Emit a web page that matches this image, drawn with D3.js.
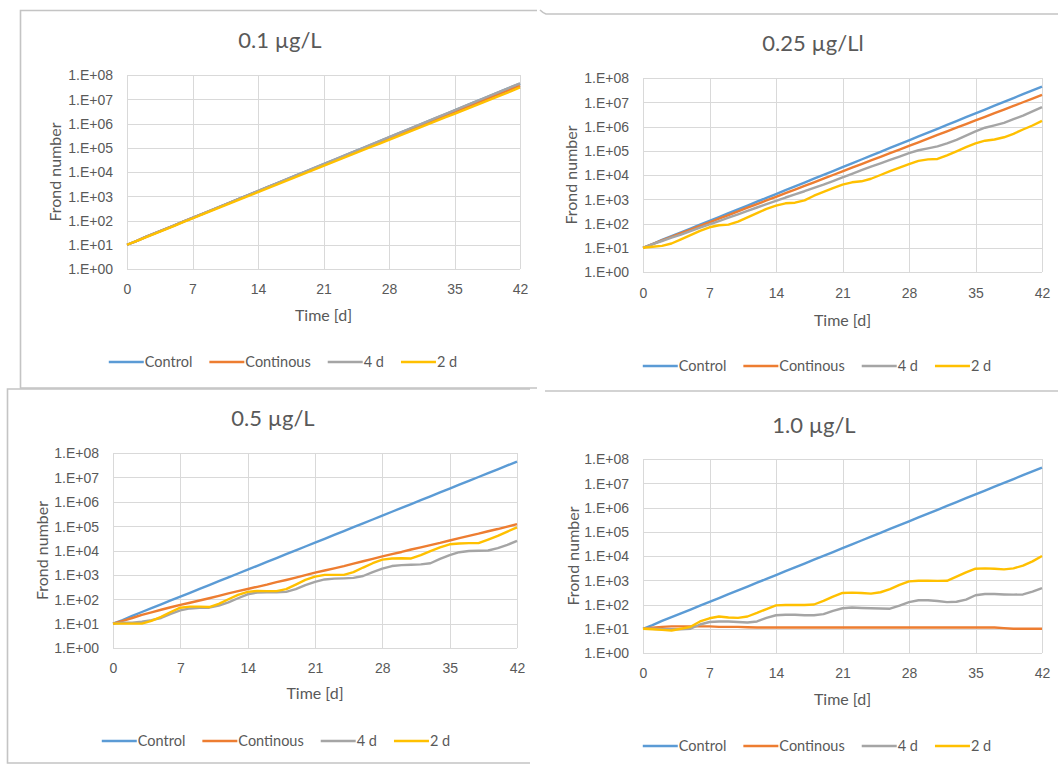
<!DOCTYPE html>
<html>
<head>
<meta charset="utf-8">
<title>Frond number over time</title>
<script src="https://d3js.org/d3.v7.min.js"></script>
<style>
  body { margin: 0; background: #fff; }
  svg { display: block; font-family: Lato, "Open Sans", sans-serif; }
  .ticks text { fill: #595959; }
  .grid line { stroke: #d9d9d9; stroke-width: 1; shape-rendering: crispEdges; }
  .frame { stroke: #c4c4c4; stroke-width: 1.6; fill: none; }
</style>
</head>
<body>
<svg id="chart" width="1058" height="765"></svg>
<script>
// ---- data ----
var days = [0, 1, 2, 3, 4, 5, 6, 7, 8, 9, 10, 11, 12, 13, 14, 15, 16, 17, 18, 19, 20,
            21, 22, 23, 24, 25, 26, 27, 28, 29, 30, 31, 32, 33, 34, 35, 36, 37, 38, 39, 40, 41, 42];
var xTicks = [0, 7, 14, 21, 28, 35, 42];
var yTicks = [1, 10, 100, 1e3, 1e4, 1e5, 1e6, 1e7, 1e8];
var yTickLabels = ["1.E+00", "1.E+01", "1.E+02", "1.E+03", "1.E+04", "1.E+05", "1.E+06", "1.E+07", "1.E+08"];
var seriesNames = ["Control", "Continous", "4 d", "2 d"];
var panelTitles = ["0.1 \u00b5g/L", "0.25 \u00b5g/Ll", "0.5 \u00b5g/L", "1.0 \u00b5g/L"];

// control is the same in every panel
var control = [10, 14, 21, 30, 43, 62, 89,
  128, 184, 265, 382, 550, 790, 1140,
  1640, 2360, 3400, 4900, 7050, 10150, 14600,
  21000, 30300, 43600, 62800, 90400, 130000, 187000,
  270000, 389000, 560000, 806000, 1.16e6, 1.67e6, 2.41e6,
  3.47e6, 4.99e6, 7.19e6, 1.035e7, 1.49e7, 2.15e7, 3.09e7,
  4.45e7];

// 0.1 ug/L
var p01Cont = [10, 14, 21, 30, 43, 62, 89,
  127, 182, 262, 378, 543, 778, 1120,
  1600, 2300, 3300, 4740, 6800, 9760, 13900,
  19900, 28600, 40900, 58700, 84000, 120000, 172000,
  246000, 352000, 500000, 715000, 1.02e6, 1.46e6, 2.09e6,
  2.99e6, 4.27e6, 6.1e6, 8.7e6, 1.24e7, 1.78e7, 2.54e7,
  3.6e7];
var p01Four = [10, 14, 21, 30, 43, 62, 89,
  128, 184, 266, 383, 552, 793, 1150,
  1650, 2380, 3420, 4930, 7100, 10200, 14700,
  21100, 30400, 43800, 63100, 90900, 131000, 189000,
  272000, 392000, 565000, 813000, 1.17e6, 1.69e6, 2.43e6,
  3.5e6, 5.04e6, 7.26e6, 1.05e7, 1.51e7, 2.17e7, 3.13e7,
  4.55e7];
var p01Two = [10, 14, 20, 29, 41, 59, 85,
  121, 173, 247, 354, 506, 722, 1030,
  1480, 2110, 3020, 4320, 6170, 8820, 12600,
  17900, 25500, 36300, 51700, 73600, 105000, 149000,
  212000, 302000, 430000, 612000, 870000, 1.24e6, 1.77e6,
  2.52e6, 3.58e6, 5.1e6, 7.25e6, 1.03e7, 1.47e7, 2.1e7,
  3.1e7];

// 0.25 ug/L
var p025Cont = [10, 14, 20, 28, 40, 56, 79,
  112, 158, 224, 316, 447, 631, 891,
  1260, 1780, 2510, 3550, 5010, 7080, 10000,
  14100, 20000, 28200, 39800, 56200, 79400, 112000,
  158000, 224000, 316000, 447000, 631000, 891000, 1.26e6,
  1.78e6, 2.51e6, 3.55e6, 5.01e6, 7.08e6, 1.0e7, 1.41e7,
  2.0e7];
var p025Four = [10, 14, 19, 26, 35, 49, 68,
  93, 126, 174, 240, 331, 457, 631,
  851, 1180, 1590, 2140, 2950, 3980, 5620,
  7940, 11200, 15800, 21900, 30200, 41700, 57500,
  79400, 105000, 126000, 151000, 200000, 282000, 417000,
  631000, 891000, 1.12e6, 1.41e6, 2.0e6, 2.82e6, 4.17e6,
  6.31e6];
var p025Two = [10, 11, 12, 15, 22, 33, 50,
  70, 85, 90, 120, 180, 270, 400,
  550, 680, 720, 900, 1400, 2000, 2900,
  4000, 5000, 5500, 7000, 10000, 14500, 20000,
  28000, 38000, 44000, 46000, 65000, 95000, 140000,
  200000, 260000, 290000, 360000, 500000, 750000, 1.1e6,
  1.7e6];

// 0.5 ug/L
var p05Cont = [10, 13, 17, 23, 29, 37, 47,
  59, 72, 89, 110, 138, 174, 214,
  263, 324, 398, 501, 617, 776, 977,
  1230, 1510, 1860, 2290, 2880, 3630, 4570,
  5750, 7080, 8710, 11000, 13500, 16600, 20400,
  25700, 32400, 39800, 49000, 61700, 75900, 95500,
  120000];
var p05Four = [10, 11, 11, 12, 14, 17, 25,
  35, 42, 45, 45, 55, 75, 110,
  160, 190, 195, 195, 200, 260, 380,
  520, 650, 700, 720, 750, 900, 1300,
  1800, 2300, 2500, 2600, 2700, 3000, 4500,
  6500, 8500, 9500, 9800, 10000, 12500, 17000,
  25000];
var p05Two = [10, 10, 10, 10, 13, 19, 30,
  45, 50, 50, 48, 65, 100, 150,
  200, 220, 215, 215, 260, 400, 620,
  850, 1000, 1000, 1000, 1300, 2000, 3000,
  4200, 4700, 4800, 4700, 6500, 9500, 13500,
  18000, 19500, 20000, 20000, 28000, 40000, 60000,
  88000];

// 1.0 ug/L
var p10Cont = [10, 11, 12, 12.5, 12.5, 12.5, 12.5,
  12.5, 12, 12, 12, 11.5, 11.2, 11.2,
  11.2, 11.2, 11.2, 11.2, 11.2, 11.2, 11.2,
  11.2, 11.2, 11.2, 11.2, 11.2, 11.2, 11.2,
  11.2, 11.2, 11.2, 11.2, 11.2, 11.2, 11.2,
  11.2, 11.2, 11.2, 10.6, 10, 10, 10,
  10];
var p10Four = [10, 10, 9.5, 9.5, 9.5, 10, 15,
  19, 20, 20, 19, 18, 20, 28,
  36, 38, 38, 36, 36, 40, 55,
  70, 75, 72, 70, 68, 67, 90,
  125, 150, 150, 140, 125, 130, 160,
  240, 270, 270, 260, 255, 260, 340,
  470];
var p10Two = [10, 9.5, 9, 8.5, 10, 12, 20,
  27, 32, 29, 28, 32, 45, 65,
  92, 95, 95, 95, 100, 140, 210,
  300, 310, 300, 280, 320, 430, 650,
  900, 950, 950, 940, 950, 1400, 2100,
  3000, 3100, 3000, 2800, 3100, 4000, 6000,
  10000];

// ---- styling / layout ----
var colors = ["#5b9bd5", "#ed7d31", "#a5a5a5", "#ffc000"];
var textColor = "#595959";

var panels = [
  { title: panelTitles[0], series: [control, p01Cont, p01Four, p01Two],
    plot: [127, 520, 75, 269], titleX: 280, titleY: 40, yTitleX: 55,
    xLabY: 289, xTitleY: 315, legY: 362, legX: 283 },
  { title: panelTitles[1], series: [control, p025Cont, p025Four, p025Two],
    plot: [643, 1042, 78, 272], titleX: 813, titleY: 43, yTitleX: 571,
    xLabY: 293, xTitleY: 320, legY: 366, legX: 817 },
  { title: panelTitles[2], series: [control, p05Cont, p05Four, p05Two],
    plot: [113, 517, 453, 648], titleX: 273, titleY: 418, yTitleX: 42,
    xLabY: 668, xTitleY: 693, legY: 741, legX: 276 },
  { title: panelTitles[3], series: [control, p10Cont, p10Four, p10Two],
    plot: [643, 1042, 459, 653], titleX: 814, titleY: 425, yTitleX: 573,
    xLabY: 673, xTitleY: 699, legY: 746, legX: 817 }
];

var svg = d3.select("#chart");

/* frames of the pasted chart snippets */
var frames = svg.append("g").attr("class", "frames");
frames.append("path").attr("class", "frame")
  .attr("d", "M537,10.5 L20.5,10.5 L20.5,388 L537,388");
frames.append("path").attr("class", "frame")
  .attr("d", "M540,10 Q543,13 546,14 L1058,14");
frames.append("path").attr("class", "frame")
  .attr("d", "M1058,391 L545,391");
frames.append("path").attr("class", "frame")
  .attr("d", "M530,389 L7.5,389 L7.5,763 L530,763");

panels.forEach(function(p) {
  var x = d3.scaleLinear().domain([0, 42]).range([p.plot[0], p.plot[1]]);
  var y = d3.scaleLog().domain([1, 1e8]).range([p.plot[3], p.plot[2]]);
  var w = p.plot[1] - p.plot[0], h = p.plot[3] - p.plot[2];
  var g = svg.append("g");

  // gridlines
  g.append("g").attr("class", "grid")
    .attr("transform", "translate(" + p.plot[0] + ",0)")
    .call(d3.axisLeft(y).tickValues(yTicks).tickSize(-w).tickFormat(""))
    .call(function(s) { s.select(".domain").remove(); });
  g.append("g").attr("class", "grid")
    .attr("transform", "translate(0," + p.plot[3] + ")")
    .call(d3.axisBottom(x).tickValues(xTicks).tickSize(-h).tickFormat(""))
    .call(function(s) { s.select(".domain").remove(); });

  // tick labels
  g.append("g").attr("class", "ticks")
    .attr("transform", "translate(" + p.plot[0] + ",0)")
    .call(d3.axisLeft(y).tickValues(yTicks).tickSize(0).tickPadding(14)
      .tickFormat(function(d, i) { return yTickLabels[i]; }))
    .call(function(s) {
      s.select(".domain").remove();
      s.selectAll("text").attr("font-size", 14).attr("font-family", null).attr("dy", "0.35em");
    });
  g.append("g").attr("class", "ticks")
    .attr("transform", "translate(0," + p.plot[3] + ")")
    .call(d3.axisBottom(x).tickValues(xTicks).tickSize(0))
    .call(function(s) {
      s.select(".domain").remove();
      s.selectAll("text").attr("font-size", 14).attr("font-family", null)
        .attr("y", p.xLabY - p.plot[3]).attr("dy", "0.35em");
    });

  // lines
  var line = d3.line()
    .x(function(d, i) { return x(days[i]); })
    .y(function(d) { return y(d); });
  p.series.forEach(function(s, k) {
    g.append("path")
      .attr("d", line(s))
      .attr("fill", "none")
      .attr("stroke", colors[k])
      .attr("stroke-width", 2.4)
      .attr("stroke-linejoin", "round");
  });

  // titles
  g.append("text")
    .attr("x", p.titleX).attr("y", p.titleY).attr("dy", "0.35em")
    .attr("text-anchor", "middle").attr("font-size", 22).attr("fill", textColor)
    .text(p.title);
  g.append("text")
    .attr("x", (p.plot[0] + p.plot[1]) / 2).attr("y", p.xTitleY).attr("dy", "0.35em")
    .attr("text-anchor", "middle").attr("font-size", 16).attr("fill", textColor)
    .text("Time [d]");
  g.append("text")
    .attr("transform", "translate(" + p.yTitleX + "," + (p.plot[2] + p.plot[3]) / 2 + ") rotate(-90)")
    .attr("dy", "0.35em")
    .attr("text-anchor", "middle").attr("font-size", 16).attr("fill", textColor)
    .text("Frond number");

  // legend
  var leg = g.append("g");
  var cursor = 0;
  seriesNames.forEach(function(name, k) {
    leg.append("line")
      .attr("x1", cursor).attr("x2", cursor + 35)
      .attr("y1", 0).attr("y2", 0)
      .attr("stroke", colors[k]).attr("stroke-width", 2.4);
    var t = leg.append("text")
      .attr("x", cursor + 36).attr("y", 0).attr("dy", "0.35em")
      .attr("font-size", 14.5).attr("fill", textColor)
      .text(name);
    cursor += 36 + t.node().getComputedTextLength() + 17;
  });
  cursor -= 17;
  leg.attr("transform", "translate(" + (p.legX - cursor / 2) + "," + p.legY + ")");
});
</script>
</body>
</html>
